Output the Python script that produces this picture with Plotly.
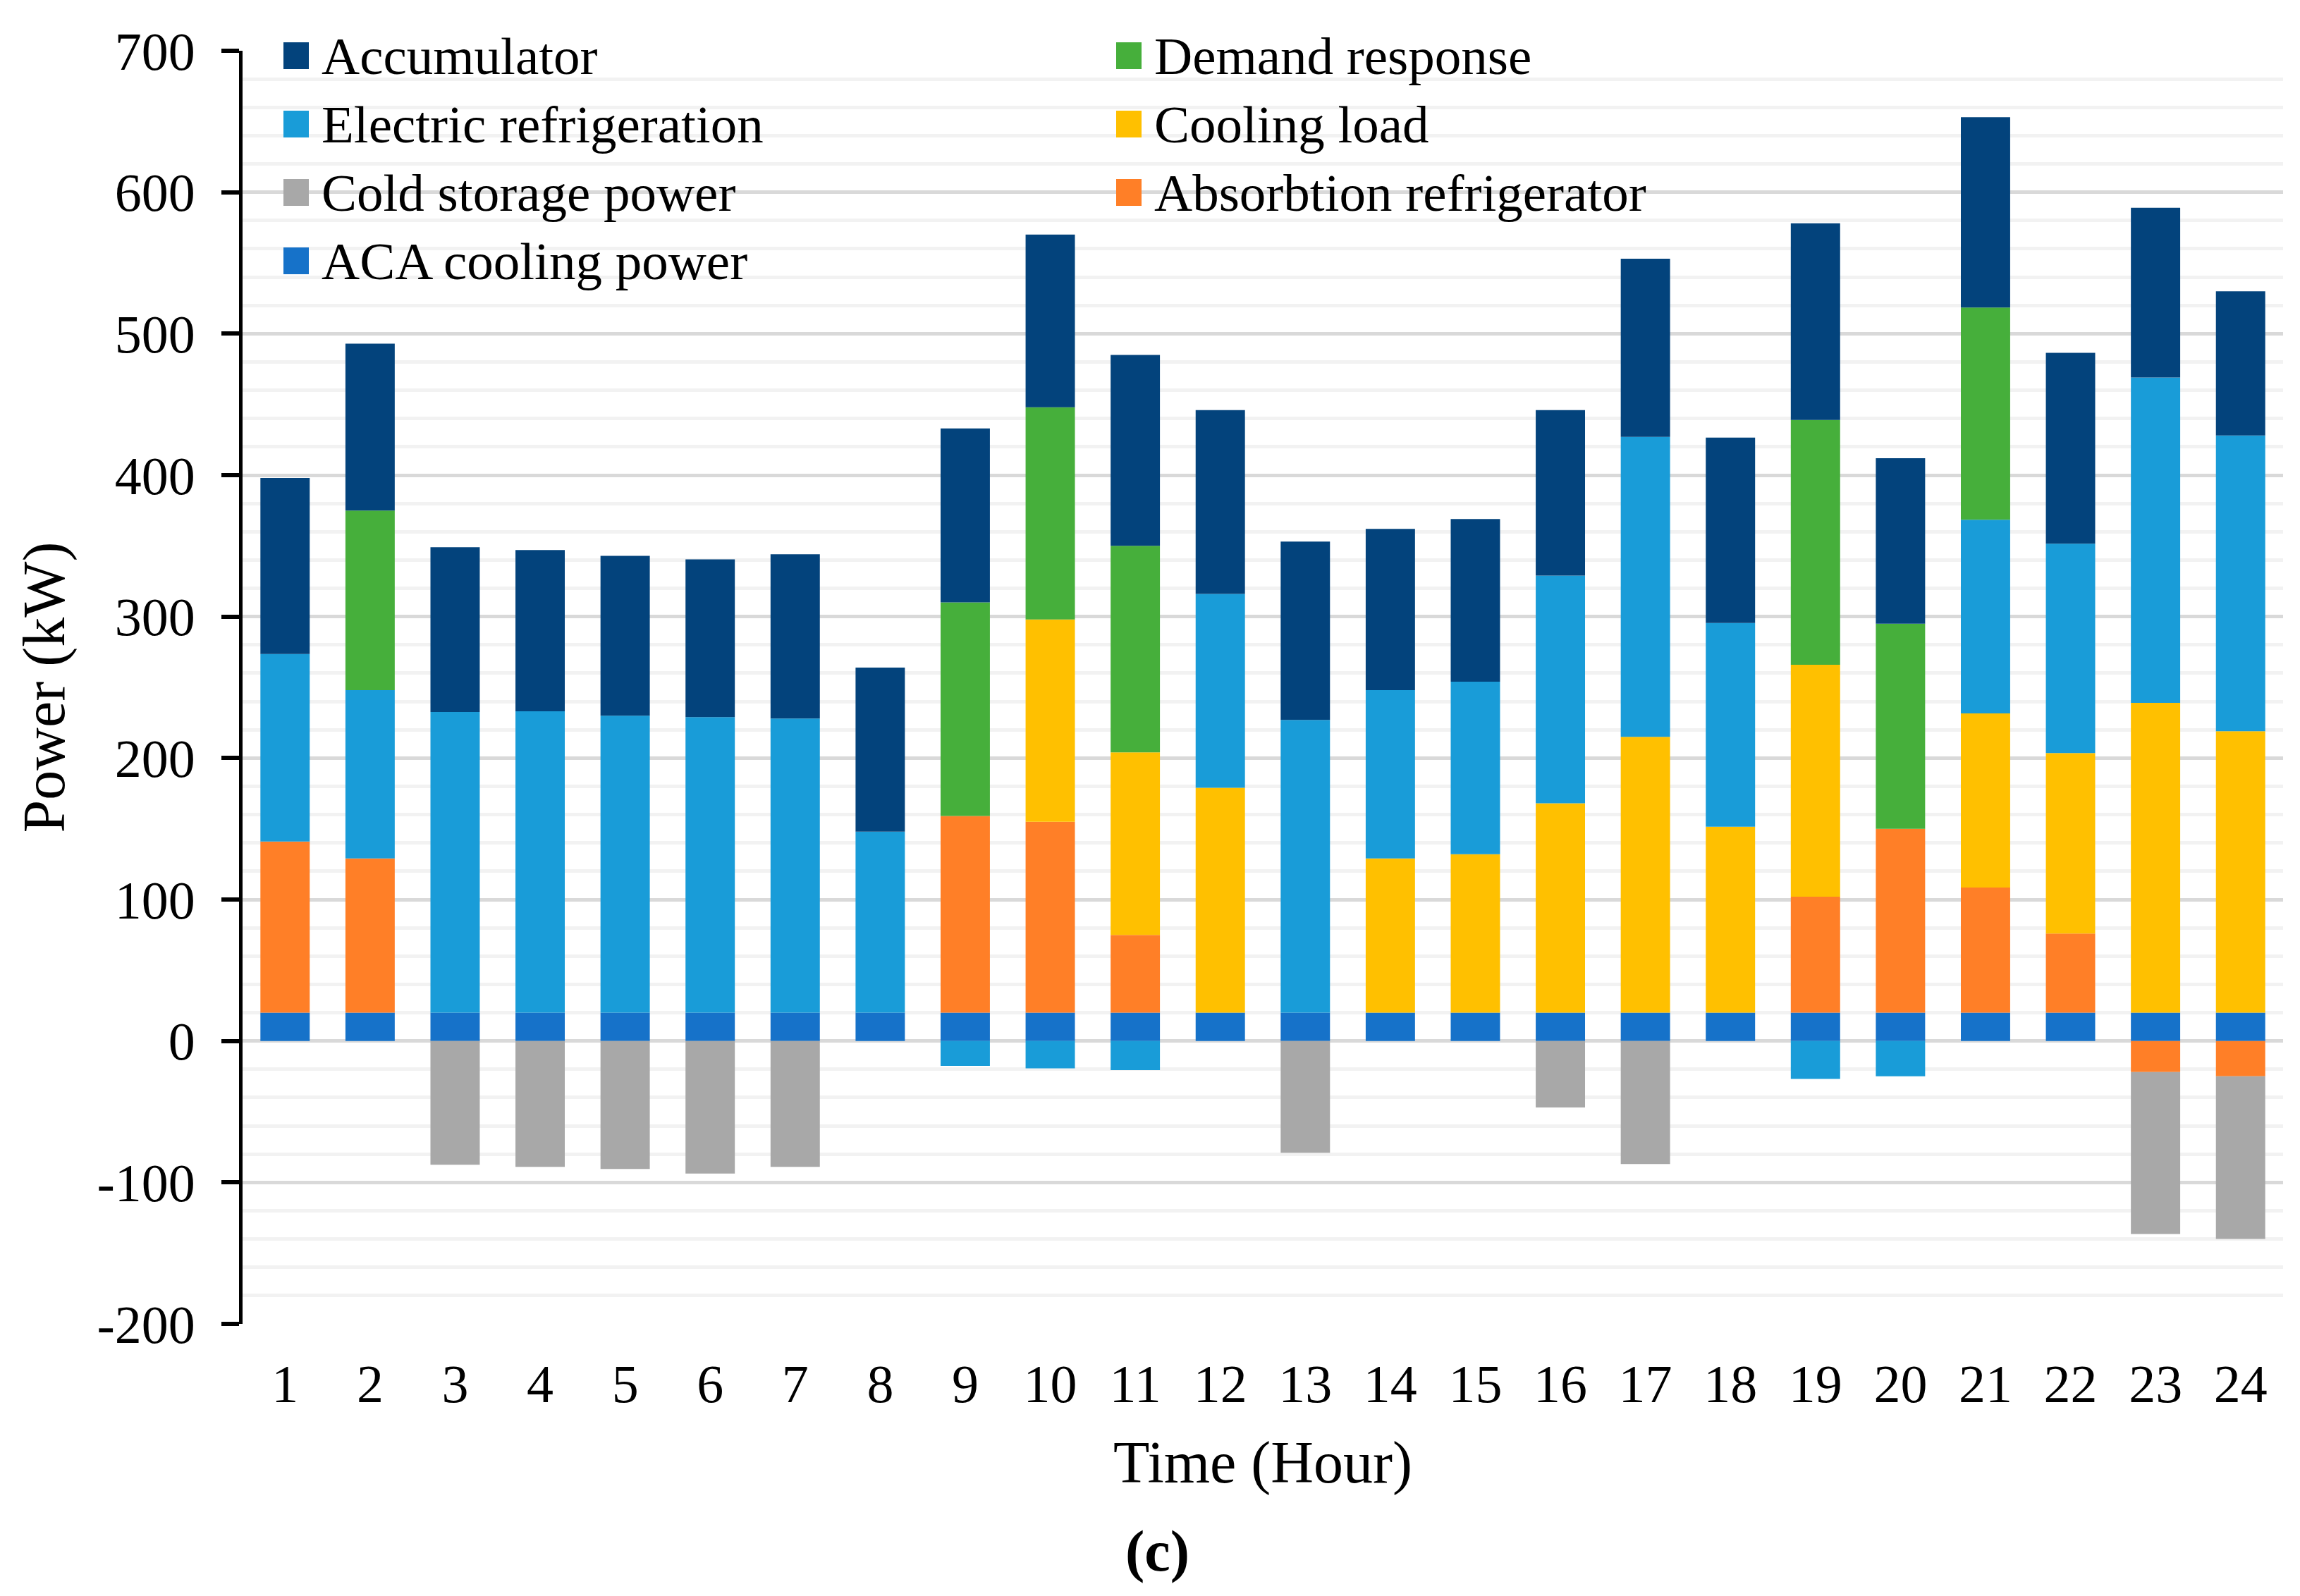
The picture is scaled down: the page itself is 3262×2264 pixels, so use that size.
import plotly.graph_objects as go

# ---------------- data ----------------
hours = list(range(1, 25))
hour_labels = [str(h) for h in hours]

aca_cooling = [20] * 24
absorption = [121, 109, 0, 0, 0, 0, 0, 0, 139, 135, 55, 0,
              0, 0, 0, 0, 0, 0, 82, 130, 88.5, 56, -22, -25]
cooling_load = [0, 0, 0, 0, 0, 0, 0, 0, 0, 143, 129, 159,
                0, 109, 112, 148, 195, 131.5, 164, 0, 123, 127.5, 219, 199]
electric_ref = [132.5, 119, 212.5, 213, 210, 209, 208, 128, -17.6, -19.3, -20.6, 137,
                207, 119, 122, 161, 212, 144, -26.8, -25, 137, 148, 230, 209]
demand_resp = [0, 127, 0, 0, 0, 0, 0, 0, 151, 150, 146, 0,
               0, 0, 0, 0, 0, 0, 173, 145, 150, 0, 0, 0]
accumulator = [124.5, 118, 116.5, 114, 113, 111.5, 116, 116, 123, 122, 135, 130,
               126, 114, 115, 117, 126, 131, 139, 117, 134.5, 135, 120, 102]
cold_storage = [0, 0, -87.5, -89, -90.5, -93.7, -89, 0, 0, 0, 0, 0,
                -79, 0, 0, -47, -87, 0, 0, 0, 0, 0, -114.5, -115]

y_ticks = [-200, -100, 0, 100, 200, 300, 400, 500, 600, 700]
y_tick_labels = ["-200", "-100", "0", "100", "200", "300", "400", "500", "600", "700"]

# stacking order (bottom up)
series = [
    ("ACA cooling power", aca_cooling, "#1672C9"),
    ("Absorbtion refrigerator", absorption, "#FF7F27"),
    ("Cooling load", cooling_load, "#FFC000"),
    ("Electric refrigeration", electric_ref, "#199CD8"),
    ("Demand response", demand_resp, "#46AF3B"),
    ("Accumulator", accumulator, "#03437C"),
    ("Cold storage power", cold_storage, "#A8A8A8"),
]
legend_order = ["Accumulator", "Demand response", "Electric refrigeration", "Cooling load",
                "Cold storage power", "Absorbtion refrigerator", "ACA cooling power"]

# ---------------- layout constants ----------------
OFF = 8  # page body margin
W, H = 3262 - 2 * OFF, 2264 - 2 * OFF
ML, MT = 344 - OFF, 72 - OFF
PLOT_R, PLOT_B = 3238 - OFF, 1878 - OFF
MR, MB = W - PLOT_R, H - PLOT_B
PW, PH = PLOT_R - ML, PLOT_B - MT
FONT = "Liberation Serif"


def px(xp):
    return (xp - OFF - ML) / PW


def py(yp):
    return (PLOT_B - (yp - OFF)) / PH


fig = go.Figure()
for name, vals, col in series:
    fig.add_trace(go.Bar(x=hours, y=vals, name=name, marker=dict(color=col, line=dict(width=0)),
                         showlegend=False))

# manual legend (two columns, row-major)
colors = {n: c for n, _, c in series}
col_sq_x = [402, 1583]
row_y = [79, 176, 273, 370]
shapes = []
annotations = []
for i, name in enumerate(legend_order):
    r, c = divmod(i, 2)
    x0 = col_sq_x[c]
    yc = row_y[r]
    shapes.append(dict(type="rect", xref="paper", yref="paper",
                       x0=px(x0), x1=px(x0 + 36),
                       y0=py(yc + 19), y1=py(yc - 19),
                       fillcolor=colors[name], line=dict(width=0)))
    annotations.append(dict(text=name, xref="paper", yref="paper",
                            x=px(x0 + 52), y=py(yc),
                            xanchor="left", yanchor="middle", showarrow=False,
                            font=dict(family=FONT, size=75, color="black")))

annotations.append(dict(text="<b>(c)</b>", xref="paper", yref="paper",
                        x=px(1641), y=py(2200),
                        xanchor="center", yanchor="middle", showarrow=False,
                        font=dict(family=FONT, size=82, color="black")))

fig.update_layout(
    width=W, height=H,
    margin=dict(l=ML, r=MR, t=MT, b=MB, pad=0),
    barmode="relative", bargap=0.42,
    plot_bgcolor="white", paper_bgcolor="white",
    font=dict(family=FONT, size=76, color="black"),
    shapes=shapes, annotations=annotations,
    xaxis=dict(range=[0.5, 24.5], tickvals=hours, ticktext=hour_labels,
               showgrid=False, zeroline=False, showline=False, ticks="",
               ticklabelstandoff=34,
               tickfont=dict(family=FONT, size=76, color="black"),
               title=dict(text="Time (Hour)", standoff=40,
                          font=dict(family=FONT, size=84, color="black"))),
    yaxis=dict(range=[-200, 700], tickvals=y_ticks, ticktext=y_tick_labels,
               showline=True, linecolor="black", linewidth=5,
               ticks="outside", ticklen=25, tickwidth=6, tickcolor="black",
               ticklabelstandoff=22,
               showgrid=True, gridcolor="#D9D9D9", gridwidth=5,
               zeroline=True, zerolinecolor="#D9D9D9", zerolinewidth=5,
               minor=dict(dtick=20, showgrid=True, gridcolor="#F2F2F2", gridwidth=5),
               tickfont=dict(family=FONT, size=76, color="black"),
               title=dict(text="Power (kW)", standoff=20,
                          font=dict(family=FONT, size=84, color="black"))),
)

fig.write_html("out.html")
